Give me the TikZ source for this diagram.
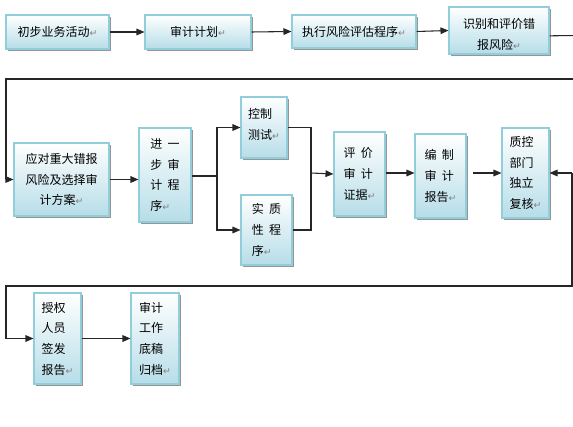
\documentclass[tikz,border=0pt]{standalone}
\usepackage{fontspec}
\setmainfont{Noto Sans CJK SC}
\newfontfamily\symfont{DejaVu Sans}
\usetikzlibrary{arrows.meta,shadows}
\definecolor{boxline}{RGB}{146,205,220}
\definecolor{boxfill}{RGB}{182,221,232}
\definecolor{shadowgray}{RGB}{150,150,150}
\newcommand\ret{{\color{gray}\symfont\fontsize{7pt}{7pt}\selectfont ↵}}
\newcommand\gp{\hspace{0.45em}}
\begin{document}
\begin{tikzpicture}[x=0.75pt,y=-0.75pt,
  box/.style={draw=boxline, line width=0.8pt, top color=white, bottom color=boxfill,
    drop shadow={shadow xshift=1.6pt,shadow yshift=-1.6pt,fill=shadowgray,opacity=1},
    inner sep=0pt, font=\fontsize{9pt}{15.5pt}\selectfont},
  boxtext/.style={inner sep=0pt, font=\fontsize{9pt}{15.5pt}\selectfont},
  conn/.style={line width=0.8pt, draw=black!85},
  arr/.style={conn, -{Triangle[length=6pt,width=5pt]}}
]
\useasboundingbox (0,0) rectangle (573,427);
% row 1
\node[box, minimum width=77.25pt, minimum height=25.5pt] (b1) at (57.5,32) {初步业务活动\ret};
\node[box, minimum width=79.5pt, minimum height=25.5pt] (b2) at (198,32) {审计计划\ret};
\node[box, minimum width=93pt, minimum height=24.75pt] (b3) at (354,31.5) {执行风险评估程序\ret};
\node[box, minimum width=75pt, minimum height=35.25pt] (b4) at (499,30.5) {};
\node[boxtext, align=center] (t4) at ([yshift=-3pt]b4.center) {识别和评价错\\报风险\ret};
% row 2
\node[box, minimum width=71.25pt, minimum height=54.75pt, align=center] (b5) at (61.5,179.5) {应对重大错报\\风险及选择审\\计方案\ret};
\node[box, minimum width=39pt, minimum height=70.5pt, align=left] (b6) at (165,175) {进\gp 一\\步\gp 审\\计\gp 程\\序\ret};
\node[box, minimum width=34.5pt, minimum height=45.75pt] (b7) at (264,127.5) {};
\node[boxtext, align=left] (t7) at ([yshift=2.5pt]b7.center) {控制\\测试\ret};
\node[box, minimum width=38.25pt, minimum height=52.5pt, align=left] (b8) at (266.5,230) {实\gp 质\\性\gp 程\\序\ret};
\node[box, minimum width=38.25pt, minimum height=63pt, align=left] (b9) at (359.5,174) {评\gp 价\\审\gp 计\\证据\ret};
\node[box, minimum width=38.25pt, minimum height=63pt, align=left] (b10) at (440.5,176) {编\gp 制\\审\gp 计\\报告\ret};
\node[box, minimum width=35.25pt, minimum height=67.5pt, align=left] (b11) at (525.5,173) {质控\\部门\\独立\\复核\ret};
% row 3
\node[box, minimum width=35.25pt, minimum height=68.25pt, align=left] (b12) at (57.5,338.5) {授权\\人员\\签发\\报告\ret};
\node[box, minimum width=36pt, minimum height=68.25pt, align=left] (b13) at (155,338.5) {审计\\工作\\底稿\\归档\ret};
% helper coordinates
\coordinate (e1) at (576,35.5);
\coordinate (e2) at (576,79);
\coordinate (l1) at (6,79);
\coordinate (j1) at (217,176);
\coordinate (j2) at (311,173);
\coordinate (r1) at (572,173);
\coordinate (l2) at (6,286);
% connectors row 1
\draw[arr] (b1) -- (b2);
\draw[arr] (b2.east) -- (b3.west);
\draw[arr] (b3.east) -- (b4.west);
\draw[conn] ([yshift=-4pt]b4.east) -- (e1);
\draw[arr] (e2) -- (l1) |- (b5.west);
% row 2
\draw[arr] (b5.east) -- (b5.east -| b6.west);
\draw[conn] (b6.east |- j1) -- (j1);
\draw[arr] (j1) |- (b7.west);
\draw[arr] (j1) |- (b8.west);
\draw[conn] (b7.east) -| (j2);
\draw[conn] (b8.east) -| (j2);
\draw[arr] (j2) -- (b9.west);
\draw[arr] (b9.east |- j2) -- (b10.west |- j2);
\draw[arr] ([xshift=4.5pt]b10.east |- j2) -- (b11.west);
\draw[arr] (r1) -- (b11.east);
\draw[arr] (r1) |- (l2) |- (b12.west);
% row 3
\draw[arr] (b12) -- (b13);
\end{tikzpicture}
\end{document}
